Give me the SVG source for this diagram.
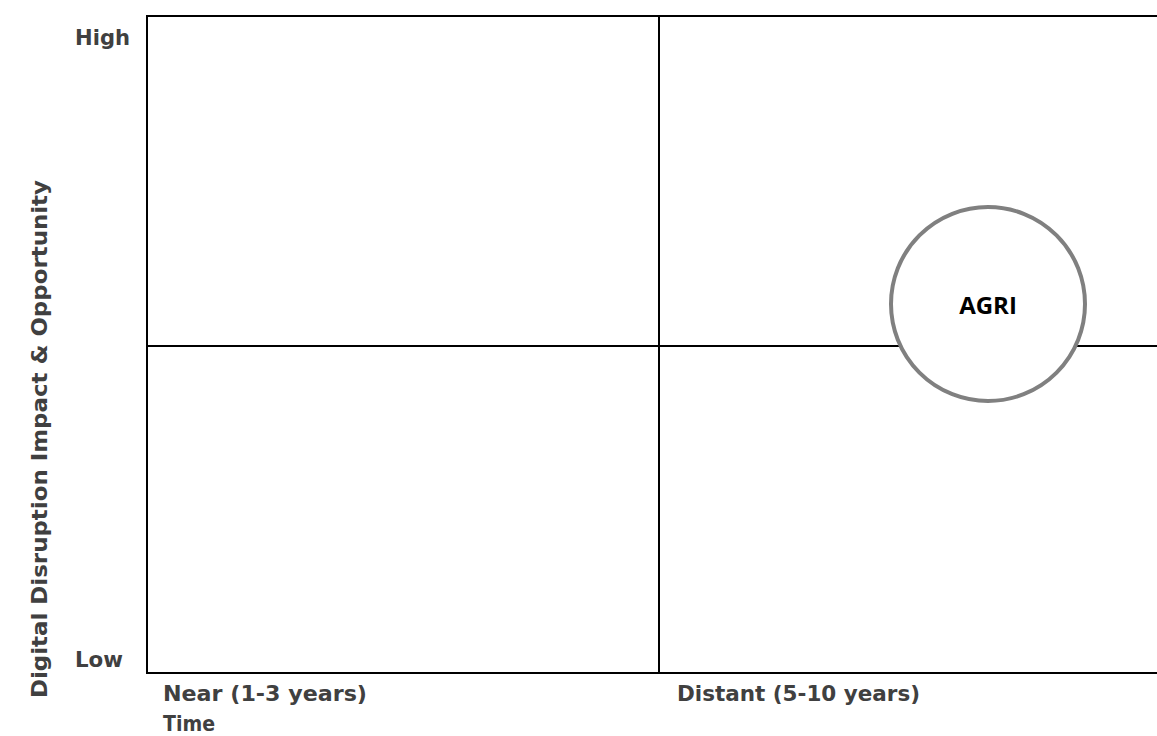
<svg xmlns="http://www.w3.org/2000/svg" width="1157" height="736" viewBox="0 0 1157 736">
<style>
.lbl{font-family:"DejaVu Sans","Liberation Sans",sans-serif;font-weight:bold;font-size:21px;fill:#404040}
.ln{stroke:#000;stroke-width:2;fill:none}
</style>
<rect width="1157" height="736" fill="#fff"/>
<g id="connectors">
<rect class="ln" x="147" y="16" width="1012" height="657"/>
<line class="ln" x1="659" y1="16" x2="659" y2="673"/>
<line class="ln" x1="147" y1="346" x2="1157" y2="346"/>
</g>
<g id="labels">
<text class="lbl" x="75" y="45" textLength="55" lengthAdjust="spacingAndGlyphs">High</text>
<text class="lbl" x="75" y="667" textLength="48" lengthAdjust="spacingAndGlyphs">Low</text>
<text class="lbl" x="163" y="701" textLength="204" lengthAdjust="spacingAndGlyphs">Near (1-3 years)</text>
<text class="lbl" x="163" y="731" textLength="52" lengthAdjust="spacingAndGlyphs">Time</text>
<text class="lbl" x="677" y="701" textLength="243" lengthAdjust="spacingAndGlyphs">Distant (5-10 years)</text>
<text class="lbl" transform="translate(47,698) rotate(-90)" textLength="518" lengthAdjust="spacingAndGlyphs">Digital Disruption Impact &amp; Opportunity</text>
</g>
<g id="agri">
<circle cx="988" cy="304" r="97" fill="#fff" stroke="#808080" stroke-width="4"/>
<text x="988" y="314" text-anchor="middle" style="font-family:'Open Sans','Liberation Sans',sans-serif;font-weight:bold;font-size:24px;fill:#000">AGRI</text>
</g>
</svg>
